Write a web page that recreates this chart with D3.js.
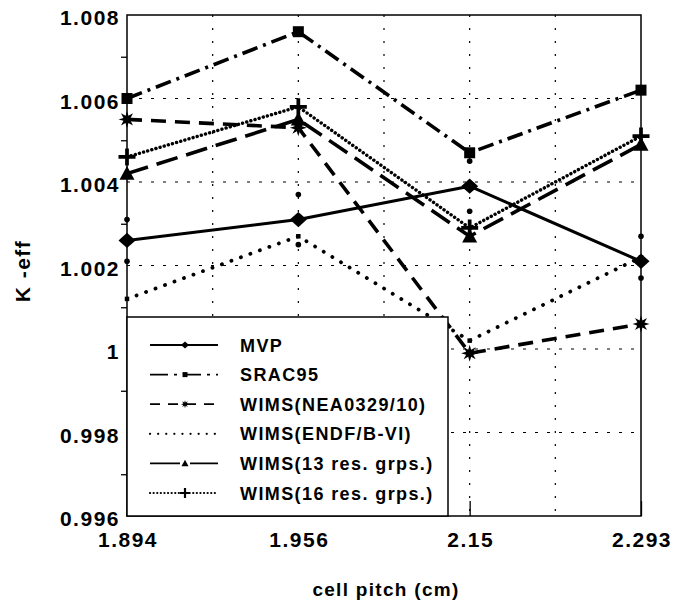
<!DOCTYPE html>
<html>
<head>
<meta charset="utf-8">
<script src="https://cdn.jsdelivr.net/npm/d3@7"></script>
<style>
  body { margin: 0; background: #fff; }
  text { font-family: "Liberation Sans", Arial, Helvetica, sans-serif; font-weight: bold; fill: #000; }
</style>
</head>
<body>
<svg id="chart" width="690" height="608"></svg>
<script>
// Cell pitch categories (cm)
const pitches = ["1.894", "1.956", "2.15", "2.293"];

// k-eff by code / library
const mvp      = [1.0026, 1.0031, 1.0039, 1.0021];
const mvpLow   = [1.0021, 1.0025, 1.0033, 1.0017];
const mvpHigh  = [1.0031, 1.0037, 1.0045, 1.0027];
const srac95   = [1.0060, 1.0076, 1.0047, 1.0062];
const wimsNea  = [1.0055, 1.0053, 0.9999, 1.0006];
const wimsEndf = [1.0012, 1.0027, 1.0002, 1.0022];
const wims13   = [1.0042, 1.0055, 1.0027, 1.0049];
const wims16   = [1.0046, 1.0058, 1.0029, 1.0051];

const seriesNames = ["MVP", "SRAC95", "WIMS(NEA0329/10)", "WIMS(ENDF/B-VI)", "WIMS(13 res. grps.)", "WIMS(16 res. grps.)"];
const seriesValues = [mvp, srac95, wimsNea, wimsEndf, wims13, wims16];

const yTicks = [0.996, 0.998, 1.000, 1.002, 1.004, 1.006, 1.008];
const yTickLabels = ["0.996", "0.998", "1", "1.002", "1.004", "1.006", "1.008"];
const yMinorTicks = [0.997, 0.999, 1.001, 1.003, 1.005, 1.007];

// Drawing styles per series
const styles = [
  { dash: null,          cap: "butt",  width: 3,   legendDash: null,        marker: "diamond",  size: 8.5, legendSize: 4 },
  { dash: "16,6,3,6",    cap: "butt",  width: 3.6, legendDash: "18,6,3,6",  marker: "square",   size: 11,  legendSize: 5 },
  { dash: "15,9",        cap: "butt",  width: 3.6, legendDash: "10,8",      marker: "burst",    size: 8.5, legendSize: 4 },
  { dash: "0.1,10",      cap: "round", width: 3.8, legendDash: "0.1,8",     marker: "dot",      size: 4.5, legendSize: 0 },
  { dash: "22,9",        cap: "butt",  width: 3.6, legendDash: "30,10",     marker: "triangle", size: 15,  legendSize: 7 },
  { dash: "0.1,4.2",     cap: "round", width: 3.4, legendDash: "0.1,3.5",   marker: "plus",     size: 8.5, legendSize: 5 }
];

const svg = d3.select("#chart");
const plotLeft = 127, plotRight = 641, plotTop = 15, plotBottom = 516;

const x = d3.scaleLinear().domain([0, pitches.length - 1]).range([plotLeft, plotRight]);
const y = d3.scaleLinear().domain([0.996, 1.008]).range([plotBottom, plotTop]);

// Grid: horizontal at labelled values, vertical every half pitch step
const grid = svg.append("g").attr("stroke", "#000").attr("stroke-width", 1.2);
yTicks.slice(1, -1).forEach(v => {
  grid.append("line").attr("x1", plotLeft).attr("x2", plotRight).attr("y1", y(v)).attr("y2", y(v))
    .attr("stroke-dasharray", "3,9");
});
d3.range(0.5, pitches.length - 1, 0.5).forEach(i => {
  grid.append("line").attr("x1", x(i)).attr("x2", x(i)).attr("y1", plotTop).attr("y2", plotBottom)
    .attr("stroke-dasharray", "2,11");
});

// Inward major ticks on the x axis
const xAxis = d3.axisBottom(x).tickValues(d3.range(pitches.length)).tickSize(-15).tickFormat("");
svg.append("g").attr("transform", `translate(0,${plotBottom})`).call(xAxis)
  .call(g => g.select(".domain").remove())
  .call(g => g.selectAll("line").attr("stroke", "#000").attr("stroke-width", 1.3));

// Outward minor ticks on the y axis
const yAxisMinor = d3.axisLeft(y).tickValues(yMinorTicks).tickSize(6).tickFormat("");
svg.append("g").attr("transform", `translate(${plotLeft},0)`).call(yAxisMinor)
  .call(g => g.select(".domain").remove())
  .call(g => g.selectAll("line").attr("stroke", "#000").attr("stroke-width", 1.3));

// Marker shapes
function markerPath(type, s) {
  const p = d3.path();
  if (type === "diamond") {
    p.moveTo(0, -s * 0.9); p.lineTo(s, 0); p.lineTo(0, s * 0.9); p.lineTo(-s, 0); p.closePath();
  } else if (type === "square") {
    p.rect(-s / 2, -s / 2, s, s);
  } else if (type === "burst") {
    for (let k = 0; k < 16; k++) {
      const r = k % 2 === 0 ? s : s * 0.45;
      const a = k * Math.PI / 8 - Math.PI / 2;
      if (k === 0) p.moveTo(r * Math.cos(a), r * Math.sin(a));
      else p.lineTo(r * Math.cos(a), r * Math.sin(a));
    }
    p.closePath();
  } else if (type === "dot") {
    p.rect(-s / 2, -s / 2, s, s);
  } else if (type === "triangle") {
    const h = s * 0.92;
    p.moveTo(0, -h * 0.55); p.lineTo(s / 2, h * 0.45); p.lineTo(-s / 2, h * 0.45); p.closePath();
  } else if (type === "plus") {
    const w = s * 0.22;
    p.moveTo(-w, -s); p.lineTo(w, -s); p.lineTo(w, -w); p.lineTo(s, -w); p.lineTo(s, w);
    p.lineTo(w, w); p.lineTo(w, s); p.lineTo(-w, s); p.lineTo(-w, w); p.lineTo(-s, w);
    p.lineTo(-s, -w); p.lineTo(-w, -w); p.closePath();
  }
  return p.toString();
}

const line = d3.line().x((d, i) => x(i)).y(d => y(d));

// Series lines
const plot = svg.append("g");
seriesValues.forEach((vals, k) => {
  const st = styles[k];
  plot.append("path").datum(vals)
    .attr("d", line)
    .attr("fill", "none")
    .attr("stroke", "#000")
    .attr("stroke-width", st.width)
    .attr("stroke-dasharray", st.dash)
    .attr("stroke-linecap", st.cap)
    .attr("stroke-linejoin", "round");
});

// MVP uncertainty end points
plot.append("g").selectAll("circle")
  .data(d3.range(pitches.length).flatMap(i => [[i, mvpLow[i]], [i, mvpHigh[i]]]))
  .join("circle")
  .attr("cx", d => x(d[0])).attr("cy", d => y(d[1])).attr("r", 2.8).attr("fill", "#000");

// Series markers
seriesValues.forEach((vals, k) => {
  const st = styles[k];
  plot.append("g").selectAll("path").data(vals).join("path")
    .attr("transform", (d, i) => `translate(${x(i)},${y(d)})`)
    .attr("d", markerPath(st.marker, st.size))
    .attr("fill", "#000");
});

// Plot frame
svg.append("rect").attr("x", plotLeft).attr("y", plotTop)
  .attr("width", plotRight - plotLeft).attr("height", plotBottom - plotTop)
  .attr("fill", "none").attr("stroke", "#000").attr("stroke-width", 1.5);

// Y tick labels
svg.append("g").selectAll("text").data(yTicks).join("text")
  .attr("x", plotLeft - 7).attr("y", d => y(d) + 10)
  .attr("text-anchor", "end")
  .attr("font-size", 21).attr("letter-spacing", 1.5)
  .text((d, i) => yTickLabels[i]);

// X tick labels
svg.append("g").selectAll("text").data(pitches).join("text")
  .attr("x", (d, i) => x(i) + 1).attr("y", 547)
  .attr("text-anchor", "middle")
  .attr("font-size", 21).attr("letter-spacing", 1.5)
  .text(d => d);

// Axis titles
svg.append("text").attr("transform", "translate(30,271) rotate(-90)")
  .attr("text-anchor", "middle").attr("font-size", 21).attr("letter-spacing", 1.5)
  .text("K -eff");
svg.append("text").attr("x", 386).attr("y", 596)
  .attr("text-anchor", "middle").attr("font-size", 19).attr("letter-spacing", 1.3)
  .text("cell pitch (cm)");

// Legend
const lg = svg.append("g");
lg.append("rect").attr("x", plotLeft).attr("y", 317)
  .attr("width", 448 - plotLeft).attr("height", plotBottom - 317)
  .attr("fill", "#fff").attr("stroke", "#000").attr("stroke-width", 1.5);
seriesNames.forEach((name, k) => {
  const st = styles[k];
  const ly = 345 + k * 29.6;
  lg.append("line").attr("x1", 150).attr("x2", 218).attr("y1", ly).attr("y2", ly)
    .attr("stroke", "#000").attr("stroke-width", st.cap === "round" ? 2.2 : 1.8)
    .attr("stroke-dasharray", st.legendDash)
    .attr("stroke-linecap", st.cap);
  if (st.legendSize > 0) {
    lg.append("path").attr("transform", `translate(185,${ly})`)
      .attr("d", markerPath(st.marker, st.legendSize)).attr("fill", "#000");
  }
  lg.append("text").attr("x", 240).attr("y", ly + 6.5)
    .attr("font-size", 18).attr("letter-spacing", 1.4)
    .text(name);
});
</script>
</body>
</html>
